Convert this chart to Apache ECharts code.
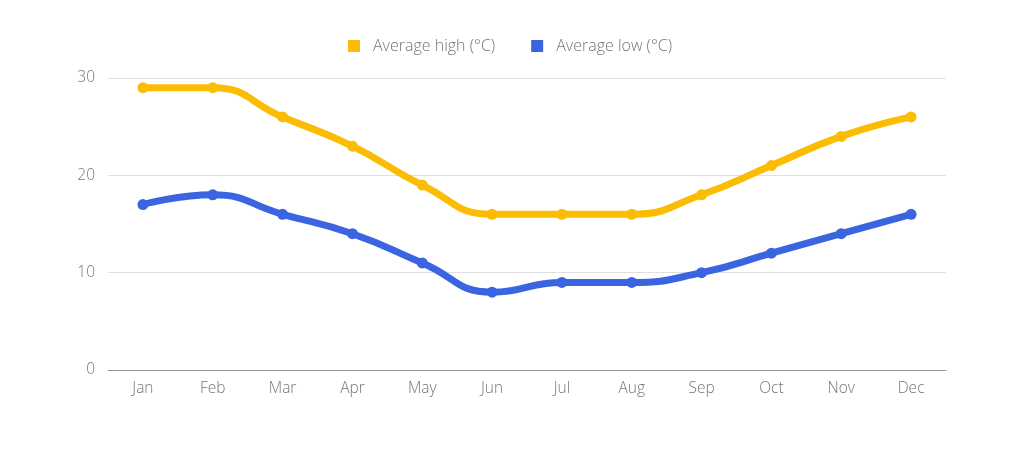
<!DOCTYPE html>
<html><head><meta charset="utf-8">
<script src="https://cdn.jsdelivr.net/npm/echarts@6/dist/echarts.min.js"></script>
<style>html,body{margin:0;padding:0;background:#fff}#c{width:1024px;height:455px}</style>
</head><body><div id="c"></div>
<script>
const categories = ['Jan','Feb','Mar','Apr','May','Jun','Jul','Aug','Sep','Oct','Nov','Dec'];
const highValues = [29,29,26,23,19,16,16,16,18,21,24,26];
const lowValues = [17,18,16,14,11,8,9,9,10,12,14,16];
const yTicks = [0,10,20,30];
const font = '"Open Sans", sans-serif';
const chart = echarts.init(document.getElementById('c'));
chart.setOption({
  animation: false,
  legend: {
    top: 33, left: 343, itemWidth: 12, itemHeight: 12, itemGap: 36,
    icon: 'rect',
    textStyle: {color: '#757575', fontSize: 16, fontFamily: font, fontWeight: 300, padding: [0,0,0,8]},
    data: ['Average high (°C)', 'Average low (°C)']
  },
  grid: {left: 108, right: 78, top: 78, bottom: 85},
  xAxis: {
    type: 'category', data: categories, boundaryGap: true,
    axisLine: {lineStyle: {color: '#999', width: 1}},
    axisTick: {show: false},
    axisLabel: {color: '#757575', fontSize: 15.5, fontFamily: font, fontWeight: 300, margin: 11}
  },
  yAxis: {
    type: 'value', min: yTicks[0], max: yTicks[yTicks.length-1], interval: 10,
    axisLine: {show: false}, axisTick: {show: false},
    splitLine: {lineStyle: {color: '#e0e0e0'}},
    axisLabel: {color: '#757575', fontSize: 15.5, fontFamily: font, fontWeight: 300, margin: 13}
  },
  series: [
    {name: 'Average high (°C)', type: 'line', data: highValues, smooth: 0.5,
     symbol: 'circle', symbolSize: 11, color: '#fbbc04',
     lineStyle: {width: 7, color: '#fbbc04'}, itemStyle: {color: '#fbbc04'}},
    {name: 'Average low (°C)', type: 'line', data: lowValues, smooth: 0.5,
     symbol: 'circle', symbolSize: 11, color: '#3b64e0',
     lineStyle: {width: 7, color: '#3b64e0'}, itemStyle: {color: '#3b64e0'}}
  ]
});
</script></body></html>
